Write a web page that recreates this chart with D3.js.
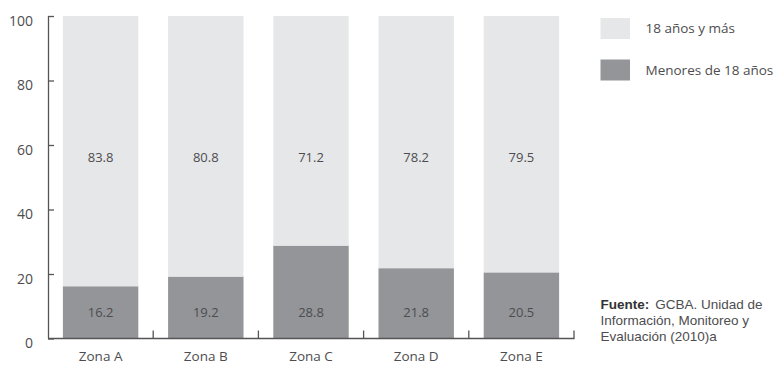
<!DOCTYPE html>
<html>
<head>
<meta charset="utf-8">
<script src="https://cdn.jsdelivr.net/npm/d3@7"></script>
<style>
  html, body { margin: 0; padding: 0; background: #fff; }
  svg { display: block; font-family: "Open Sans", "DejaVu Sans", sans-serif; }
  .nota { font-family: "Liberation Sans", Arial, sans-serif; }
</style>
</head>
<body>
<svg id="chart" width="780" height="365"></svg>
<script>
// Población por grupo de edad, por zona (%)
const zonas = ["Zona A", "Zona B", "Zona C", "Zona D", "Zona E"];
const menores = [16.2, 19.2, 28.8, 21.8, 20.5];
const mayores = [83.8, 80.8, 71.2, 78.2, 79.5];
const serieNombres = ["18 años y más", "Menores de 18 años"];
const yTicks = [0, 20, 40, 60, 80, 100];
const fuente = ["GCBA. Unidad de", "Información, Monitoreo y", "Evaluación (2010)a"];

const colClaro = "#e6e7e8";
const colOscuro = "#939598";
const colEje = "#555";
const colTexto = "#4d4d4f";

const svg = d3.select("#chart");

const x = d3.scaleBand()
  .domain(zonas)
  .range([48, 574])
  .paddingInner(0.283)
  .paddingOuter(0.1415);

const y = d3.scaleLinear().domain([0, 100]).range([338.5, 16]);

const filas = zonas.map((z, i) => ({ zona: z, menores: menores[i], mayores: mayores[i] }));
const stack = d3.stack().keys(["menores", "mayores"])(filas);
const colores = { menores: colOscuro, mayores: colClaro };

// barras apiladas
svg.append("g").selectAll("g")
  .data(stack)
  .join("g")
  .attr("fill", s => colores[s.key])
  .selectAll("rect")
  .data(s => s)
  .join("rect")
  .attr("x", d => x(d.data.zona))
  .attr("width", x.bandwidth())
  .attr("y", d => y(d[1]))
  .attr("height", d => y(d[0]) - y(d[1]));

// etiquetas de valores
const etiquetas = svg.append("g")
  .attr("font-size", 13)
  .attr("fill", colTexto)
  .attr("text-anchor", "middle");

etiquetas.selectAll("text.may")
  .data(filas)
  .join("text")
  .attr("class", "may")
  .attr("x", d => x(d.zona) + x.bandwidth() / 2)
  .attr("y", y(56))
  .attr("dy", "0.35em")
  .text(d => d.mayores.toFixed(1));

etiquetas.selectAll("text.men")
  .data(filas)
  .join("text")
  .attr("class", "men")
  .attr("x", d => x(d.zona) + x.bandwidth() / 2)
  .attr("y", y(8.2))
  .attr("dy", "0.35em")
  .text(d => d.menores.toFixed(1));

// eje Y
const ejeY = svg.append("g")
  .attr("transform", "translate(48,0)")
  .call(d3.axisRight(y).tickValues(yTicks).tickSize(6).tickFormat(""));
ejeY.select(".domain").attr("stroke", colEje).attr("stroke-width", 1.3).attr("d", `M0.5,${y(100)}V${y(0)}`);
ejeY.selectAll(".tick line").attr("stroke", colEje).attr("stroke-width", 1.3);

svg.append("g")
  .attr("font-size", 14)
  .attr("fill", colTexto)
  .attr("text-anchor", "end")
  .selectAll("text")
  .data(yTicks)
  .join("text")
  .attr("x", 33)
  .attr("y", d => y(d) + 5)
  .attr("dy", "0.35em")
  .text(d => d);

// eje X con marcas entre categorías
const limites = zonas.map(z => x(z) - x.step() * x.paddingInner() / 2).concat([x.range()[1]]);
const ejeX = svg.append("g");
ejeX.append("line")
  .attr("x1", 48).attr("x2", 574.5)
  .attr("y1", y(0)).attr("y2", y(0))
  .attr("stroke", colEje).attr("stroke-width", 1.3);
ejeX.selectAll("line.tk")
  .data(limites.slice(1))
  .join("line")
  .attr("class", "tk")
  .attr("x1", d => d).attr("x2", d => d)
  .attr("y1", y(0)).attr("y2", y(0) - 8)
  .attr("stroke", colEje).attr("stroke-width", 1.3);

svg.append("g")
  .attr("font-size", 13.5)
  .attr("fill", colTexto)
  .attr("text-anchor", "middle")
  .selectAll("text")
  .data(zonas)
  .join("text")
  .attr("x", d => x(d) + x.bandwidth() / 2)
  .attr("y", 361)
  .text(d => d);

// leyenda
const leyenda = svg.append("g").attr("transform", "translate(600.5,18)");
leyenda.selectAll("rect")
  .data(serieNombres)
  .join("rect")
  .attr("x", 0)
  .attr("y", (d, i) => i * 41.5)
  .attr("width", 29.5)
  .attr("height", 21)
  .attr("fill", (d, i) => i === 0 ? colClaro : colOscuro);
leyenda.selectAll("text")
  .data(serieNombres)
  .join("text")
  .attr("x", 45)
  .attr("y", (d, i) => i * 41.5 + 10.5)
  .attr("dy", "0.35em")
  .attr("font-size", 13.5)
  .attr("fill", colTexto)
  .text(d => d);

// fuente, tres renglones
const nota = svg.append("g").attr("class", "nota").attr("font-size", 13.5).attr("fill", colTexto);
const r1 = nota.append("text").attr("x", 600.5).attr("y", 308.5);
r1.append("tspan").attr("font-weight", "bold").attr("fill", "#333").text("Fuente:");
r1.append("tspan").attr("dx", 6).text(fuente[0]);
nota.selectAll("text.r")
  .data(fuente.slice(1))
  .join("text")
  .attr("class", "r")
  .attr("x", 600.5)
  .attr("y", (d, i) => 308.5 + 16 * (i + 1))
  .text(d => d);
</script>
</body>
</html>
